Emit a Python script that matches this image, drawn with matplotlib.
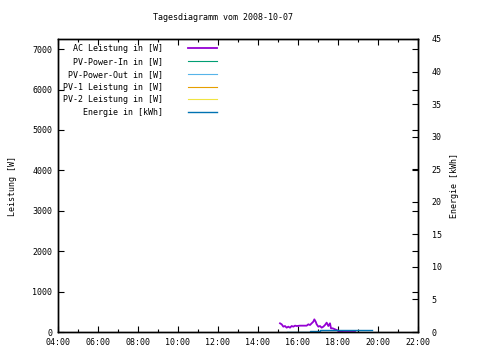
import matplotlib
matplotlib.use("Agg")
import matplotlib.pyplot as plt
from matplotlib.ticker import MultipleLocator, FuncFormatter

plt.rcParams["font.family"] = ["DejaVu Sans Mono"]
plt.rcParams["font.size"] = 6

# AC Leistung (W)
ac_times = ["15:06", "15:11", "15:16", "15:21", "15:26", "15:31", "15:36", "15:41",
            "15:46", "15:51", "15:56", "16:06", "16:26", "16:31", "16:36", "16:41",
            "16:46", "16:49", "16:53", "16:56", "17:01", "17:06", "17:11", "17:16",
            "17:21", "17:26", "17:31", "17:36", "17:39", "17:44", "17:51", "17:56",
            "18:01", "18:06", "18:16", "18:51"]
ac_power = [215, 190, 132, 148, 107, 132, 107, 148, 132, 157, 148, 157, 157, 190,
            173, 215, 256, 313, 256, 190, 132, 148, 107, 132, 173, 231, 148, 215,
            91, 91, 66, 50, 25, 8, 0, 0]

# Energie (kWh)
en_times = ["15:26", "16:36", "17:06", "19:41"]
en_values = [0.0, 0.1, 0.25, 0.25]

# no visible data for these
pv_in, pv_out, pv1, pv2 = [], [], [], []


def to_hours(ts):
    return [int(t[:2]) + int(t[3:]) / 60 for t in ts]


fig = plt.figure(figsize=(4.8, 3.6), dpi=100)
ax = fig.add_axes([58 / 480, 28 / 360, 360 / 480, 293 / 360])
ax2 = ax.twinx()

l1, = ax.plot(to_hours(ac_times), ac_power, color="#9400d3", lw=1.3)
l2, = ax.plot(pv_in, pv_in, color="#009e73", lw=0.8)
l3, = ax.plot(pv_out, pv_out, color="#56b4e9", lw=0.8)
l4, = ax.plot(pv1, pv1, color="#e69f00", lw=0.8)
l5, = ax.plot(pv2, pv2, color="#f0e442", lw=0.8)
l6, = ax2.plot(to_hours(en_times), en_values, color="#0072b2", lw=1.0,
               drawstyle="steps-post")

ax.set_xlim(4, 22)
ax.set_ylim(0, 7250)
ax2.set_ylim(0, 45)

ax.xaxis.set_major_locator(MultipleLocator(2))
ax.xaxis.set_minor_locator(MultipleLocator(1))
ax.xaxis.set_major_formatter(FuncFormatter(lambda v, p: "%02d:00" % int(v)))
ax.yaxis.set_major_locator(MultipleLocator(1000))
ax2.yaxis.set_major_locator(MultipleLocator(5))

ax.tick_params(which="both", direction="in", top=True, right=True,
               labelsize=6, pad=4)
ax.tick_params(which="major", length=4, width=0.8)
ax.tick_params(which="minor", length=2, width=0.8)
ax2.tick_params(direction="in", length=4, width=0.8, labelsize=6, pad=10)

for a in (ax, ax2):
    for s in a.spines.values():
        s.set_linewidth(1.0)

ax.set_ylabel("Leistung [W]", fontsize=6, labelpad=11)
ax2.set_ylabel("Energie [kWh]", fontsize=6, labelpad=6)
fig.text(223 / 480, 1 - 18 / 360, "Tagesdiagramm vom 2008-10-07", ha="center",
         va="center", fontsize=6)

handles = [l1, l2, l3, l4, l5, l6]
labels = ["AC Leistung in [W]", "PV-Power-In in [W]", "PV-Power-Out in [W]",
          "PV-1 Leistung in [W]", "PV-2 Leistung in [W]", "Energie in [kWh]"]
leg = ax.legend(handles, labels, loc="upper left", bbox_to_anchor=(0.0, 1.0),
                markerfirst=False, frameon=False, fontsize=6,
                handlelength=3.4, handletextpad=3, labelspacing=0.45,
                borderaxespad=0.25)

fig.savefig("out.png", dpi=100)
